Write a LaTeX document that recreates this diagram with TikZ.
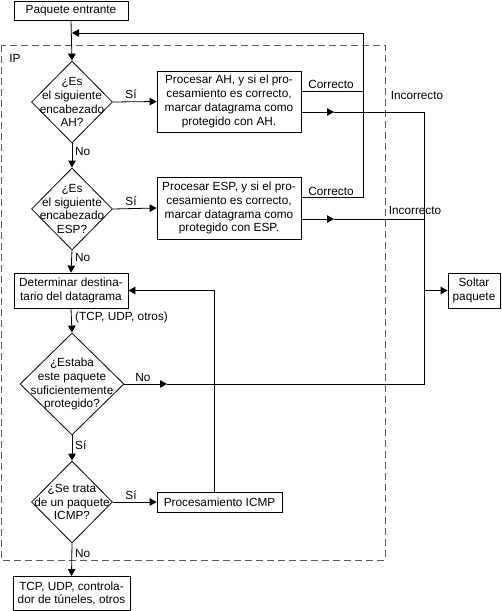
\documentclass[tikz,border=0pt]{standalone}
\usepackage{fontspec}
\setmainfont{Liberation Sans}
\usetikzlibrary{shapes.geometric,arrows.meta}
\newcommand{\fs}{\fontsize{11.8}{13.9}\selectfont}
\begin{document}
\begin{tikzpicture}[x=1pt,y=-1pt,
  ln/.style={line width=0.8pt},
  arr/.style={ln,-{Triangle[length=7pt,width=7.5pt]}},
  box/.style={draw,ln,align=center,inner sep=0pt,font=\fs},
  dia/.style={draw,ln,diamond,inner sep=0pt},
  txt/.style={align=center,inner sep=0pt,font=\fs}]
\useasboundingbox (0,0) rectangle (502,611);
% dashed IP frame
\draw[ln,dashed,dash pattern=on 7pt off 4pt,gray!70!black] (1,45) rectangle (385,560);
\node[txt] (ip) at (15,58) {IP};
% nodes
\node[box,minimum width=114pt,minimum height=19pt] (pe) at (71,10.5) {Paquete entrante};
\node[box,minimum width=144pt,minimum height=61pt] (ah) at (229,101.5) {Procesar AH, y si el pro-\\cesamiento es correcto,\\marcar datagrama como\\protegido con AH.};
\node[box,minimum width=144pt,minimum height=62pt] (esp) at (229,208) {Procesar ESP, y si el pro-\\cesamiento es correcto,\\marcar datagrama como\\protegido con ESP.};
\node[box,minimum width=114pt,minimum height=35pt] (det) at (71,290.5) {Determinar destina-\\tario del datagrama};
\node[box,minimum width=52pt,minimum height=35pt] (sol) at (474,290.5) {Soltar\\paquete};
\node[box,minimum width=125pt,minimum height=20pt] (icmp) at (219.5,502) {Procesamiento ICMP};
\node[box,minimum width=117pt,minimum height=34pt] (out) at (71.5,593.5) {TCP, UDP, controla-\\dor de túneles, otros};
% diamonds
\node[dia,minimum width=81pt,minimum height=82pt] (d1) at (72,102) {};
\node[txt] (t1) at (d1) {¿Es\\el siguiente\\encabezado\\AH?};
\node[dia,minimum width=81pt,minimum height=82pt] (d2) at (72,209) {};
\node[txt] (t2) at (d2) {¿Es\\el siguiente\\encabezado\\ESP?};
\node[dia,minimum width=104pt,minimum height=102pt] (d3) at (72,384) {};
\node[txt] (t3) at (d3) {¿Estaba\\este paquete\\suficientemente\\protegido?};
\node[dia,minimum width=81pt,minimum height=82pt] (d4) at (72,502) {};
\node[txt] (t4) at (d4) {¿Se trata\\de un paquete\\ICMP?};
% coordinates
\coordinate (top) at (72,33);
\coordinate (rc) at (363,33);
\coordinate (ahc) at (363,91);
\coordinate (espc) at (363,197);
\coordinate (ahi) at (334,112);
\coordinate (espi) at (334,219);
\coordinate (ahr) at (424,112);
\coordinate (espr) at (424,219);
\coordinate (noi) at (167,384);
\coordinate (nor) at (424,384);
\coordinate (solb) at (424,290.5);
\coordinate (ic) at (214,290.5);
% main flow
\draw[arr] (pe.south) -- (d1.north);
\draw[arr] (d1.east) -- (ah.west);
\draw[arr] (d1.south) -- (d2.north);
\draw[arr] (d2.east) -- (esp.west);
\draw[arr] (d2.south) -- (det.north);
\draw[arr] (det.south) -- (d3.north);
\draw[arr] (d3.south) -- (d4.north);
\draw[arr] (d4.east) -- (icmp.west);
\draw[arr] (d4.south) -- (out.north);
% correct returns
\draw[arr] (ah.east |- ahc) -- (ahc) -- (rc) -- (top);
\draw[ln] (esp.east |- espc) -- (espc) -- (ahc);
% incorrect
\draw[arr] (ah.east |- ahi) -- (ahi);
\draw[ln] (ahi) -- (ahr);
\draw[arr] (esp.east |- espi) -- (espi);
\draw[ln] (espi) -- (espr);
\draw[arr] (d3.east) -- (noi);
\draw[ln] (noi) -- (nor) -- (ahr);
\draw[arr] (solb) -- (sol.west);
% ICMP back
\draw[arr] (icmp.north -| ic) -- (ic) -- (det.east);
% labels
\node[txt] (l1) at (131,94) {Sí};
\node[txt] (l2) at (131,201) {Sí};
\node[txt] (l3) at (131,495) {Sí};
\node[txt,anchor=west] (l4) at (75,151) {No};
\node[txt,anchor=west] (l5) at (75,257) {No};
\node[txt,anchor=west] (l6) at (75,317) {(TCP, UDP, otros)};
\node[txt] (l7) at (143,377) {No};
\node[txt,anchor=west] (l8) at (75,445) {Sí};
\node[txt,anchor=west] (l9) at (75,553) {No};
\node[txt] (c1) at (331,84) {Correcto};
\node[txt] (c2) at (331,191) {Correcto};
\node[txt] (i1) at (417,95) {Incorrecto};
\node[txt] (i2) at (415,210) {Incorrecto};
\end{tikzpicture}
\end{document}
